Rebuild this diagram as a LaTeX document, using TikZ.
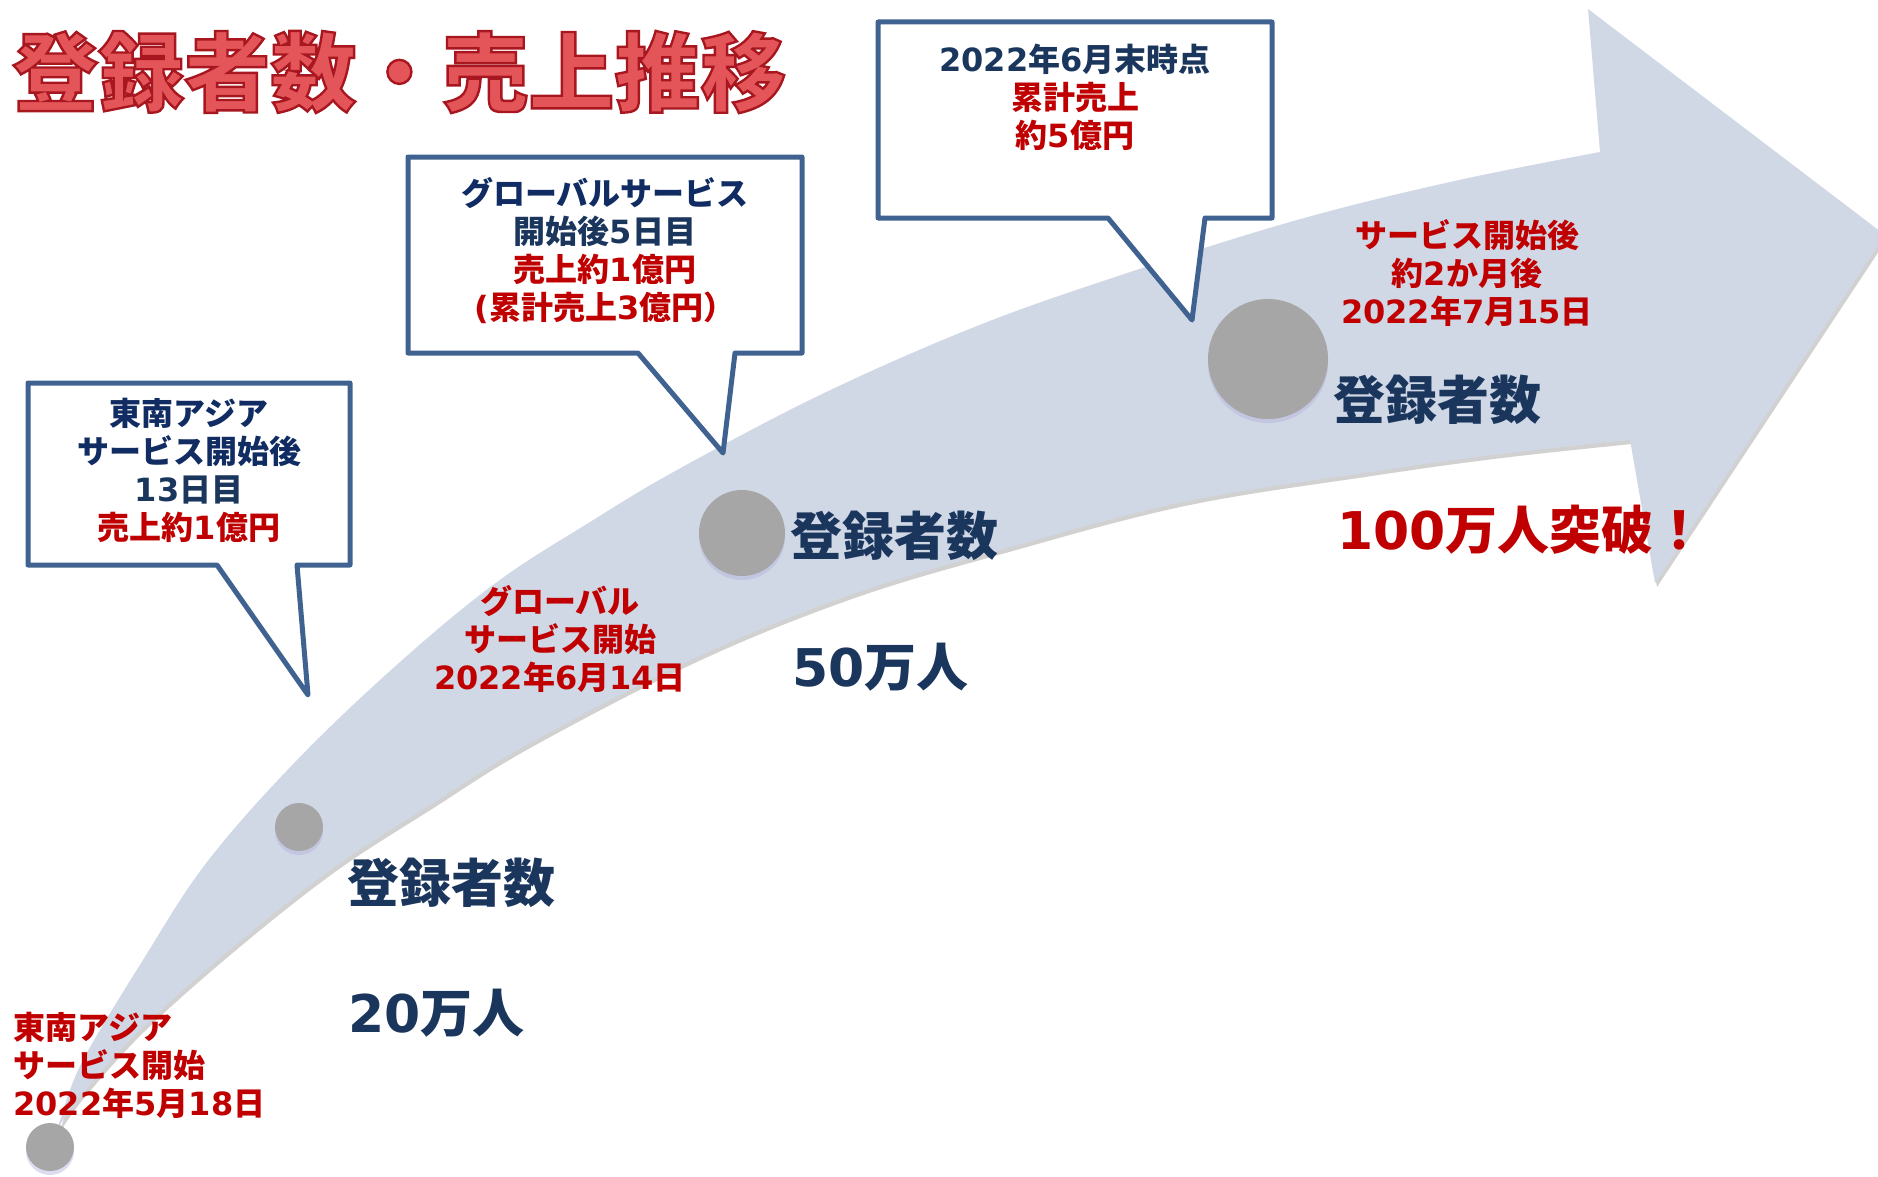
\documentclass[tikz,border=0pt]{standalone}
\usepackage{fontspec}
\setmainfont{Noto Sans CJK JP}
\newfontfamily\dvfont{DejaVu Sans}
\newcommand\dv[1]{{\dvfont #1}}
\usetikzlibrary{shadows}
\definecolor{arrowc}{HTML}{D0D8E6}
\definecolor{dotc}{HTML}{A6A6A6}
\definecolor{calloutc}{HTML}{3F6290}
\definecolor{navy}{HTML}{1B365D}
\definecolor{navyd}{HTML}{102C62}
\definecolor{redc}{HTML}{C00000}
\definecolor{titlec}{HTML}{E4555A}
\tikzset{
  callout/.style={draw=calloutc, line width=2.5pt, fill=white, line join=round},
  txt/.style={inner sep=0pt, font=\bfseries\fontsize{16}{19}\selectfont, align=center},
  redlbl/.style={txt, text=redc},
  big/.style={inner sep=0pt, anchor=west, font=\bfseries\fontsize{26}{30}\selectfont, text=navy},
  dot/.style={circle, fill=dotc, inner sep=0pt,
    drop shadow={shadow xshift=0pt, shadow yshift=-2pt, fill=black!45!blue!30, opacity=.45}},
  arrowshadow/.style={fill=black!40, opacity=.45, shift={(2,4)}},
  arrowbody/.style={fill=arrowc},
  titlefont/.style={inner sep=0pt, anchor=west, font=\bfseries\fontsize{43}{46}\selectfont},
}
\begin{document}
\begin{tikzpicture}[x=0.5pt,y=-0.5pt]
\useasboundingbox (0,0) rectangle (1878,1177);
\clip (0,0) rectangle (1878,1177);
% big curved arrow
\foreach \sty in {arrowshadow, arrowbody}{
\path[\sty] (55,1135) -- plot[smooth, tension=0.6] coordinates {(62,1115) (83,1060) (143,960) (207,862) (297,760) (400,662) (497,582) (590,522) (677,470) (820,395) (967,330) (1100,282) (1290,222) (1450,182) (1600,152)}
  -- (1588,9) -- (1885,235) -- (1655,583) -- (1630,440)
  -- plot[smooth, tension=0.6] coordinates {(1630,440) (1500,454) (1370,472) (1183,502) (1000,550) (850,595) (697,657) (530,743) (430,805) (333,868) (233,947) (143,1027) (83,1093) (60,1125)}
  -- cycle;
}
% title (filled and outlined text)
\node[titlefont, text=titlec] (title) at (12,72) {\special{pdf:literal direct 0.66 0.09 0.12 RG 1.2 w 2 Tr}登録者数・売上推移\special{pdf:literal direct 0 Tr}};
% milestones
\node[dot, minimum size=24pt] (c1) at (50,1147) {};
\node[dot, minimum size=24pt] (c2) at (299,827) {};
\node[dot, minimum size=43pt] (c3) at (742,533) {};
\node[dot, minimum size=60pt] (c4) at (1268,359) {};
% callouts
\draw[callout] (28,383) -- (350,383) -- (350,565) -- (297,565) -- (308,695) -- (217,565) -- (28,565) -- cycle;
\draw[callout] (408,157) -- (802,157) -- (802,353) -- (735,353) -- (723,453) -- (638,353) -- (408,353) -- cycle;
\draw[callout] (878,22) -- (1272,22) -- (1272,218) -- (1205,218) -- (1192,320) -- (1108,218) -- (878,218) -- cycle;
\node[txt] (t1) at (189,470) {\textcolor{navyd}{東南アジア}\\\textcolor{navyd}{サービス開始後}\\\textcolor{navy}{\dv{13}日目}\\\textcolor{redc}{売上約\dv{1}億円}};
\node[txt] (t2) at (605,251) {\textcolor{navyd}{グローバルサービス}\\\textcolor{navy}{開始後\dv{5}日目}\\\textcolor{redc}{売上約\dv{1}億円}\\\textcolor{redc}{\dv{(}累計売上\dv{3}億円）}};
\node[txt] (t3) at (1075,97) {\textcolor{navy}{\dv{2022}年\dv{6}月末時点}\\\textcolor{redc}{累計売上}\\\textcolor{redc}{約\dv{5}億円}};
% red date labels
\node[redlbl, anchor=west, align=left] (d1) at (13,1065) {東南アジア\\サービス開始\\\dv{2022}年\dv{5}月\dv{18}日};
\node[redlbl] (d2) at (560,639) {グローバル\\サービス開始\\\dv{2022}年\dv{6}月\dv{14}日};
\node[redlbl] (d3) at (1467,273) {サービス開始後\\約\dv{2}か月後\\\dv{2022}年\dv{7}月\dv{15}日};
% big labels
\node[big] (r1) at (347,883) {登録者数};
\node[big] (n1) at (348,1013) {\dv{20}万人};
\node[big] (r2) at (790,536) {登録者数};
\node[big] (n2) at (792,667) {\dv{50}万人};
\node[big] (r3) at (1333,400) {登録者数};
\node[big, text=redc] (n3) at (1337,530) {\dv{100}万人突破！};
\end{tikzpicture}
\end{document}
